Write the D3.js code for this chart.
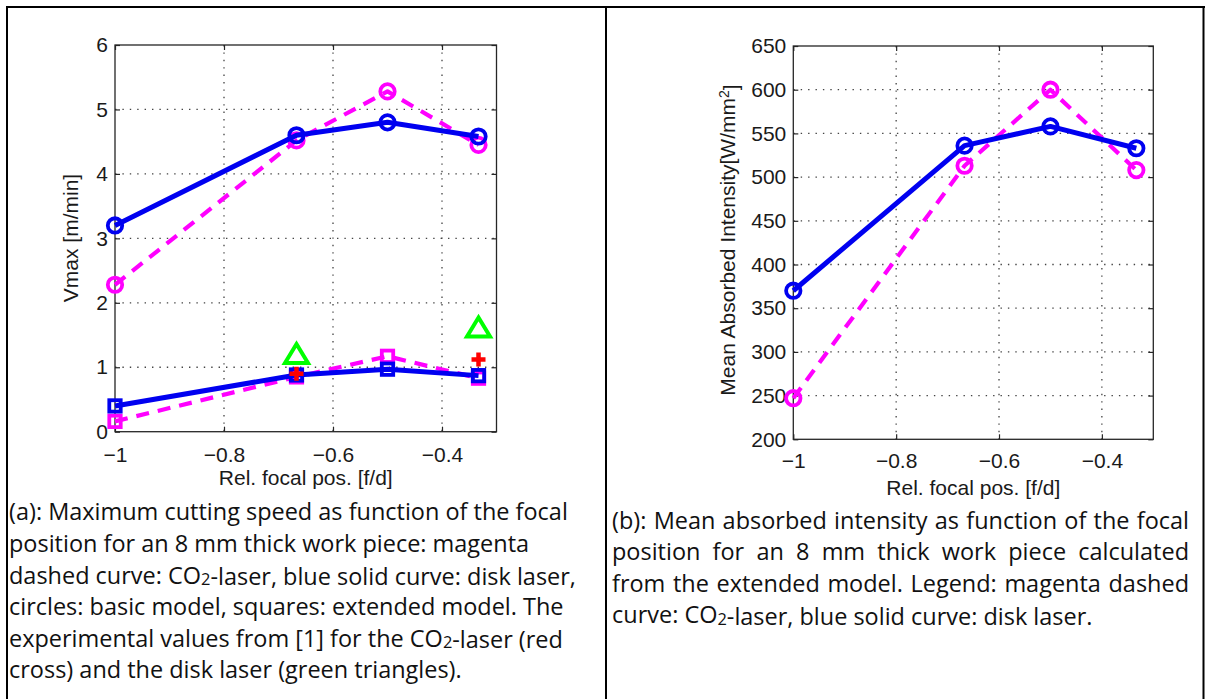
<!DOCTYPE html>
<html><head><meta charset="utf-8">
<script src="https://cdn.jsdelivr.net/npm/d3@7"></script>
<style>body{margin:0;background:#fff} svg{display:block}</style>
</head><body>
<svg id="c" width="1205" height="699"></svg>
<script>
// ---------- data ----------
const focalPos = [-1, -0.667, -0.5, -0.333];
const vmaxCO2Basic  = [2.28, 4.52, 5.28, 4.45];
const vmaxDiskBasic = [3.2, 4.6, 4.8, 4.58];
const vmaxCO2Ext    = [0.16, 0.85, 1.17, 0.83];
const vmaxDiskExt   = [0.4, 0.88, 0.97, 0.87];
const expFocalPos = [-0.667, -0.333];
const expCO2  = [0.9, 1.12];
const expDisk = [1.19, 1.6];
const intensityCO2  = [247, 513, 600, 508];
const intensityDisk = [370, 536, 558, 533];
const xTicks = [-1, -0.8, -0.6, -0.4];
const vmaxTicks = [0, 1, 2, 3, 4, 5, 6];
const intensityTicks = [200, 250, 300, 350, 400, 450, 500, 550, 600, 650];
const xLabel = "Rel. focal pos. [f/d]";
const vmaxLabel = "Vmax [m/min]";
const intensityLabel = "Mean Absorbed Intensity[W/mm";
const captionA = [
  "(a): Maximum cutting speed as function of the focal",
  "position for an 8 mm thick work piece: magenta",
  "dashed curve: CO2-laser, blue solid curve: disk laser,",
  "circles: basic model, squares: extended model. The",
  "experimental values from [1] for the CO2-laser (red",
  "cross) and the disk laser (green triangles)."
];
const captionB = [
  "(b): Mean absorbed intensity as function of the focal",
  "position for an 8 mm thick work piece calculated",
  "from the extended model. Legend: magenta dashed",
  "curve: CO2-laser, blue solid curve: disk laser."
];

// ---------- styles ----------
const BLUE = "#0000f0", MAG = "#ff00ff", GREEN = "#00ff00", RED = "#ff0000";
const AX = "#262626";
const plotFont = "'Liberation Sans', Arial, Helvetica, sans-serif";
const capFont = "'Open Sans', Lato, sans-serif";

const svg = d3.select("#c");

// table frame
svg.append("line").attr("x1", 7).attr("x2", 1205).attr("y1", 7).attr("y2", 7).attr("stroke", "#000").attr("stroke-width", 2);
svg.append("line").attr("x1", 7).attr("x2", 7).attr("y1", 6).attr("y2", 699).attr("stroke", "#000").attr("stroke-width", 2);
svg.append("line").attr("x1", 606).attr("x2", 606).attr("y1", 6).attr("y2", 699).attr("stroke", "#000").attr("stroke-width", 2);
svg.append("line").attr("x1", 1203.5).attr("x2", 1203.5).attr("y1", 6).attr("y2", 699).attr("stroke", "#000").attr("stroke-width", 2);

function panel(o) {
  const x = d3.scaleLinear().domain([-1, -0.3]).range([o.x0, o.x1]);
  const y = d3.scaleLinear().domain(o.yDomain).range([o.y1, o.y0]);
  const g = svg.append("g");

  // grid
  const grid = g.append("g").attr("stroke", "#444").attr("stroke-width", 1.3).attr("stroke-dasharray", "1.4,6");
  xTicks.filter(d => d > -1).forEach(d => {
    grid.append("line").attr("x1", x(d)).attr("x2", x(d)).attr("y1", o.y0).attr("y2", o.y1);
  });
  o.yTicks.filter(d => d > o.yDomain[0] && d < o.yDomain[1]).forEach(d => {
    grid.append("line").attr("x1", o.x0).attr("x2", o.x1).attr("y1", y(d)).attr("y2", y(d));
  });

  // axes
  const fmt = d3.format("");
  g.append("g").attr("transform", `translate(0,${o.y1})`)
    .call(d3.axisBottom(x).tickValues(xTicks).tickFormat(fmt).tickSizeInner(-5).tickSizeOuter(0).tickPadding(o.xPad));
  g.append("g").attr("transform", `translate(${o.x0},0)`)
    .call(d3.axisLeft(y).tickValues(o.yTicks).tickFormat(fmt).tickSizeInner(-5).tickSizeOuter(0).tickPadding(7));
  g.append("g").attr("transform", `translate(0,${o.y0})`)
    .call(d3.axisTop(x).tickValues(xTicks).tickFormat("").tickSizeInner(-5).tickSizeOuter(0));
  g.append("g").attr("transform", `translate(${o.x1},0)`)
    .call(d3.axisRight(y).tickValues(o.yTicks).tickFormat("").tickSizeInner(-5).tickSizeOuter(0));
  g.selectAll(".domain").remove();
  g.selectAll(".tick line").attr("stroke", AX).attr("stroke-width", 1.2);
  g.selectAll(".tick text").attr("fill", "#1a1a1a").style("font-family", plotFont).style("font-size", "21px");
  g.append("rect").attr("x", o.x0).attr("y", o.y0).attr("width", o.x1 - o.x0).attr("height", o.y1 - o.y0)
    .attr("fill", "none").attr("stroke", AX).attr("stroke-width", 1.3);

  // labels
  g.append("text").attr("x", (o.x0 + o.x1) / 2).attr("y", o.y1 + o.xLabelDy)
    .attr("text-anchor", "middle").attr("fill", "#1a1a1a")
    .style("font-family", plotFont).style("font-size", "21px").text(xLabel);
  const yl = g.append("text").attr("transform", `translate(${o.yLabelX},${o.yLabelY}) rotate(-90)`)
    .attr("text-anchor", "middle").attr("fill", "#1a1a1a")
    .style("font-family", plotFont).style("font-size", "21px").text(o.yLabel);
  if (o.yLabelSup) {
    yl.append("tspan").attr("dy", "-0.45em").style("font-size", "14px").text(o.yLabelSup);
    yl.append("tspan").attr("dy", "0.45em").text("]");
  }

  // series
  const line = d3.line().x(d => x(d[0])).y(d => y(d[1]));
  o.series.forEach(s => {
    const pts = s.xs.map((v, i) => [v, s.ys[i]]);
    if (s.line) {
      g.append("path").attr("d", line(pts)).attr("fill", "none").attr("stroke", s.color)
        .attr("stroke-width", s.dashed ? 4.2 : 5).attr("stroke-dasharray", s.dashed ? "13,9" : null)
        .attr("stroke-linejoin", "round");
    }
    const mg = g.append("g").attr("fill", "none").attr("stroke", s.color);
    pts.forEach(p => {
      const cx = x(p[0]), cy = y(p[1]);
      if (s.marker === "circle") {
        mg.append("circle").attr("cx", cx).attr("cy", cy).attr("r", 7.2).attr("stroke-width", 3.8);
      } else if (s.marker === "square") {
        mg.append("rect").attr("x", cx - 5.7).attr("y", cy - 5.7).attr("width", 11.4).attr("height", 11.4).attr("stroke-width", 3.8);
      } else if (s.marker === "triangle") {
        mg.append("path").attr("d", `M${cx},${cy - 11}L${cx + 11.5},${cy + 8}L${cx - 11.5},${cy + 8}Z`)
          .attr("stroke-width", 4).attr("stroke-linejoin", "miter");
      } else if (s.marker === "plus") {
        mg.append("path").attr("d", `M${cx - 7},${cy}H${cx + 7}M${cx},${cy - 7}V${cy + 7}`).attr("stroke-width", 4.5);
      }
    });
  });
}

panel({
  x0: 115, x1: 496.5, y0: 45, y1: 431.7,
  yDomain: [0, 6], yTicks: vmaxTicks, xPad: 15,
  yLabel: vmaxLabel, yLabelX: 78, yLabelY: 238, xLabelDy: 53,
  series: [
    { xs: focalPos, ys: vmaxCO2Basic, color: MAG, dashed: true, line: true, marker: "circle" },
    { xs: focalPos, ys: vmaxDiskBasic, color: BLUE, dashed: false, line: true, marker: "circle" },
    { xs: focalPos, ys: vmaxCO2Ext, color: MAG, dashed: true, line: true, marker: "square" },
    { xs: focalPos, ys: vmaxDiskExt, color: BLUE, dashed: false, line: true, marker: "square" },
    { xs: expFocalPos, ys: expCO2, color: RED, line: false, marker: "plus" },
    { xs: expFocalPos, ys: expDisk, color: GREEN, line: false, marker: "triangle" }
  ]
});

panel({
  x0: 793.3, x1: 1153.3, y0: 46, y1: 439.3,
  yDomain: [200, 650], yTicks: intensityTicks, xPad: 14,
  yLabel: intensityLabel, yLabelSup: "2", yLabelX: 735, yLabelY: 240, xLabelDy: 56,
  series: [
    { xs: focalPos, ys: intensityCO2, color: MAG, dashed: true, line: true, marker: "circle" },
    { xs: focalPos, ys: intensityDisk, color: BLUE, dashed: false, line: true, marker: "circle" }
  ]
});

// ---------- captions ----------
function addRich(textSel, str) {
  const parts = str.split("CO2");
  parts.forEach((p, i) => {
    if (i > 0) {
      textSel.append("tspan").text("CO");
      textSel.append("tspan").attr("dy", "0.12em").style("font-size", "0.7em").text("2");
      textSel.append("tspan").attr("dy", "-0.12em").text("");
    }
    textSel.append("tspan").text(p);
  });
}

// fit caption size so that line 1 of (b) has natural width ~568 px
const probe = svg.append("text").style("font-family", capFont).style("font-size", "20px").text(captionB[0]);
const capSize = 20 * 568 / probe.node().getComputedTextLength();
probe.remove();

const capA = svg.append("g").style("font-family", capFont).style("font-size", capSize + "px").attr("fill", "#111");
const baseA = [520, 552, 583.5, 615, 646.5, 678];
captionA.forEach((ln, i) => {
  const t = capA.append("text").attr("x", 9).attr("y", baseA[i]);
  addRich(t, ln);
});

const capB = svg.append("g").style("font-family", capFont).style("font-size", capSize + "px").attr("fill", "#111");
const baseB = [529, 560, 591.5, 623];
const bx0 = 612, bx1 = 1189;
captionB.forEach((ln, i) => {
  if (i === captionB.length - 1) {
    const t = capB.append("text").attr("x", bx0).attr("y", baseB[i]);
    addRich(t, ln);
    return;
  }
  const words = ln.split(" ");
  const nodes = words.map(w => capB.append("text").attr("y", baseB[i]).text(w));
  const widths = nodes.map(n => n.node().getComputedTextLength());
  const total = d3.sum(widths);
  const gap = (bx1 - bx0 - total) / (words.length - 1);
  let cx = bx0;
  nodes.forEach((n, k) => { n.attr("x", cx); cx += widths[k] + gap; });
});
</script>
</body></html>
